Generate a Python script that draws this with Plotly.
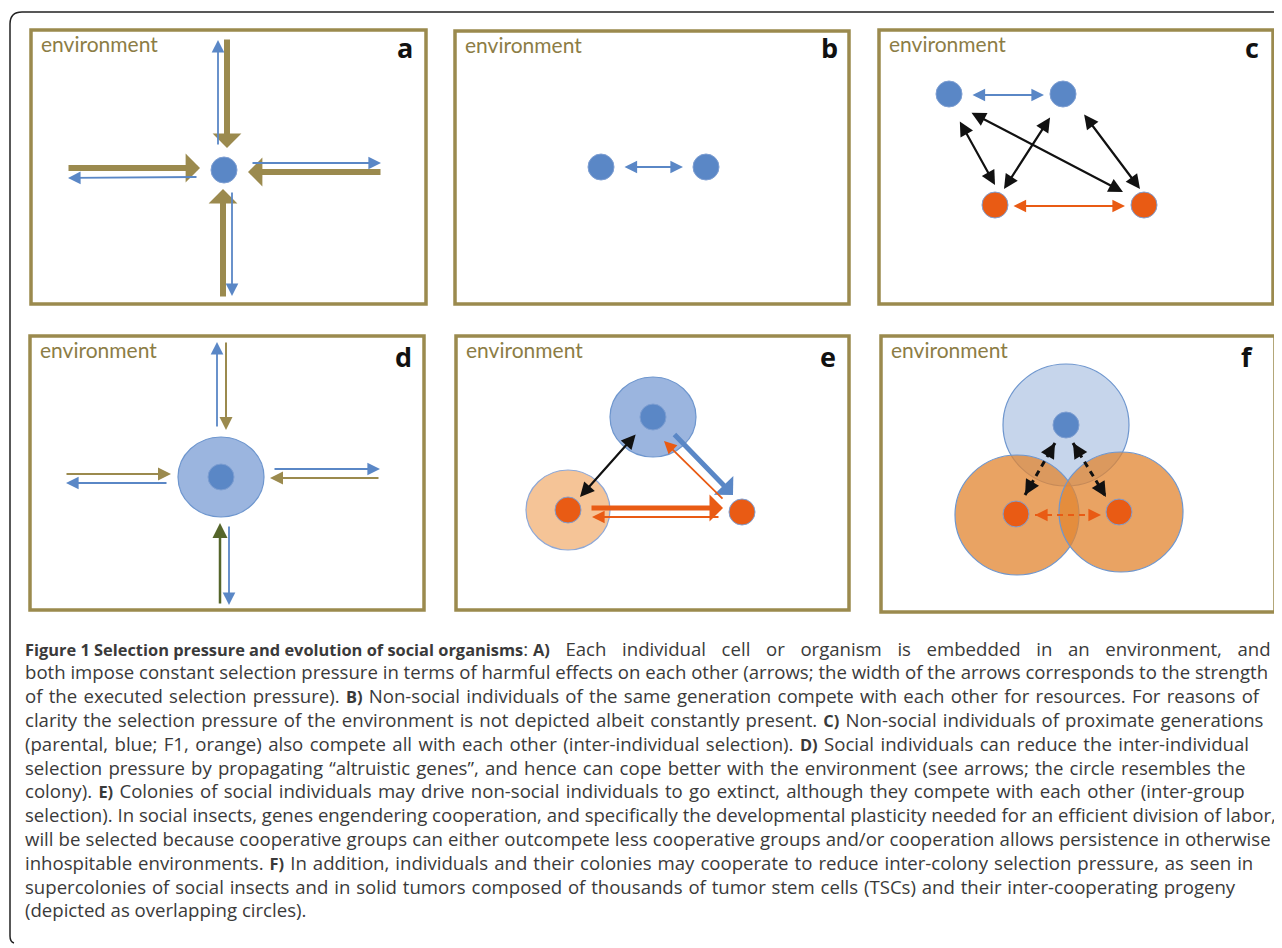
import plotly.graph_objects as go

W, H = 1282, 948
PAGE_MARGIN = 8  # default body margin of the html page

# ---------------- data ----------------
panel_x0 = [31, 455, 879, 30, 456, 881]
panel_y0 = [30, 31, 30, 336, 336, 336]
panel_x1 = [426, 849, 1273, 424, 849, 1275]
panel_y1 = [304, 304, 304, 610, 610, 612]
panel_letters = ["a", "b", "c", "d", "e", "f"]
panel_letter_x = [405, 829, 1252, 403, 828, 1247]
panel_letter_y = [47, 47, 47, 356, 356, 356]
env_label = "environment"

blue_nodes_x = [224, 601, 706, 949, 1063, 221, 653, 1066]
blue_nodes_y = [170, 167, 167, 94, 94, 477, 417, 425]
orange_nodes_x = [995, 1144, 568, 742, 1016, 1119]
orange_nodes_y = [205, 205, 510, 512, 514, 512]

colony_cx = [221, 653, 568, 1066, 1017, 1121]
colony_cy = [477, 417, 510, 425, 515, 512]
colony_rx = [43, 43, 42, 63, 62, 62]
colony_ry = [40, 40, 40, 61, 60, 60]
colony_kind = ["blue", "blue", "lorange", "fblue", "forange", "forange"]

# arrows: kind, tail x, tail y, head x, head y
arrow_kind = [
    "olive_thick", "blue", "olive_thick", "blue", "olive_thick", "blue", "olive_thick", "blue",
    "blue_double",
    "blue_double", "orange_double", "black_double", "black_double", "black_double", "black_double",
    "olive", "blue", "olive", "blue", "blue", "olive", "darkolive", "blue",
    "black_double", "blue_thick", "orange", "orange_thick", "orange",
]
arrow_tx = [227, 218, 67, 198, 382, 251, 223, 232,
            623,
            971, 1012, 959, 1051, 970, 1083,
            226, 217, 65, 168, 273, 380, 220, 229,
            637, 673, 724, 590, 720]
arrow_ty = [38, 146, 168, 177, 172, 163, 298, 191,
            167,
            95, 206, 120, 116, 112, 113,
            341, 428, 474, 483, 469, 478, 605, 525,
            433, 433, 500, 508, 517]
arrow_hx = [227, 218, 200, 68, 248, 381, 223, 232,
            683,
            1044, 1125, 995, 1004, 1123, 1140,
            226, 217, 171, 66, 380, 270, 220, 229,
            580, 733, 664, 723, 592]
arrow_hy = [148, 40, 168, 178, 172, 163, 189, 296,
            167,
            95, 206, 185, 189, 192, 189,
            430, 342, 474, 483, 469, 478, 523, 605,
            497, 495, 441, 508, 517]

# dashed double arrows (panel f)
dash_kind = ["black", "black", "orange"]
dash_x0 = [1025, 1073, 1035]
dash_y0 = [495, 443, 515]
dash_x1 = [1055, 1106, 1101]
dash_y1 = [443, 497, 515]

# caption: each line is a list of (text, is_bold) segments
caption_segments = [
    [("Figure 1 Selection pressure and evolution of social organisms", True), (": ", False), ("A)", True),
     (" Each individual cell or organism is embedded in an environment, and", False)],
    [("both impose constant selection pressure in terms of harmful effects on each other (arrows; the width of the arrows corresponds to the strength", False)],
    [("of the executed selection pressure). ", False), ("B)", True),
     (" Non-social individuals of the same generation compete with each other for resources. For reasons of", False)],
    [("clarity the selection pressure of the environment is not depicted albeit constantly present. ", False), ("C)", True),
     (" Non-social individuals of proximate generations", False)],
    [("(parental, blue; F1, orange) also compete all with each other (inter-individual selection). ", False), ("D)", True),
     (" Social individuals can reduce the inter-individual", False)],
    [("selection pressure by propagating \u201caltruistic genes\u201d, and hence can cope better with the environment (see arrows; the circle resembles the", False)],
    [("colony). ", False), ("E)", True),
     (" Colonies of social individuals may drive non-social individuals to go extinct, although they compete with each other (inter-group", False)],
    [("selection). In social insects, genes engendering cooperation, and specifically the developmental plasticity needed for an efficient division of labor,", False)],
    [("will be selected because cooperative groups can either outcompete less cooperative groups and/or cooperation allows persistence in otherwise", False)],
    [("inhospitable environments. ", False), ("F)", True),
     (" In addition, individuals and their colonies may cooperate to reduce inter-colony selection pressure, as seen in", False)],
    [("supercolonies of social insects and in solid tumors composed of thousands of tumor stem cells (TSCs) and their inter-cooperating progeny", False)],
    [("(depicted as overlapping circles).", False)],
]

# ---------------- styles ----------------
OLIVE = "#9B8A4E"
ENV_TXT = "#8C7D45"
BLUE = "#5A87C6"
ORANGE = "#E95B14"
NODE_LINE = "#7D9ED2"
REG_SIZE = 18.6
BOLD_SIZE = 16.4
# extra word spacing (px) per caption line, to follow the reference typesetting
line_word_spacing = [10.8, 0.0, 1.45, 1.25, 1.6, 1.3, 1.5, 0.0, 0.3, 1.2, 1.0, 0.0]

arrow_style = {
    "olive_thick": dict(color=OLIVE, width=6, size=0.8, double=False, head=1),
    "olive": dict(color=OLIVE, width=2, size=1.3, double=False, head=2),
    "darkolive": dict(color="#55652A", width=2.5, size=1.2, double=False, head=2),
    "blue": dict(color=BLUE, width=1.8, size=1.4, double=False, head=2),
    "blue_double": dict(color=BLUE, width=1.8, size=1.4, double=True, head=2),
    "orange_double": dict(color=ORANGE, width=1.8, size=1.4, double=True, head=2),
    "black_double": dict(color="#111111", width=2.2, size=1.3, double=True, head=2),
    "blue_thick": dict(color=BLUE, width=5, size=0.9, double=False, head=1),
    "orange": dict(color=ORANGE, width=1.8, size=1.4, double=False, head=2),
    "orange_thick": dict(color=ORANGE, width=5, size=0.9, double=False, head=1),
}
colony_style = {
    "blue": dict(fill="#9BB5DF", line="#6E96CE"),
    "lorange": dict(fill="#F5C497", line="#8FA8D6"),
    "fblue": dict(fill="rgba(91,135,197,0.35)", line="#6E96CE"),
    "forange": dict(fill="rgba(226,134,50,0.76)", line="#6E96CE"),
}

fig = go.Figure()
shapes = []
annotations = []

# outer frame (top and left edges, rounded corner)
shapes.append(dict(type="path", path="M 1290,12 L 22,12 Q 10,12 10,24 L 10,936 Q 10,942 14,943",
                   line=dict(color="#222222", width=1.5), xref="x", yref="y"))

for i in range(len(panel_letters)):
    shapes.append(dict(type="rect", x0=panel_x0[i], y0=panel_y0[i], x1=panel_x1[i], y1=panel_y1[i],
                       line=dict(color=OLIVE, width=3.5), xref="x", yref="y", layer="below"))
    annotations.append(dict(x=panel_x0[i] + 8, y=panel_y0[i] + 13, text=env_label, showarrow=False,
                            xanchor="left", yanchor="middle",
                            font=dict(family="Lato", size=21, color=ENV_TXT), xref="x", yref="y"))
    annotations.append(dict(x=panel_letter_x[i], y=panel_letter_y[i], text="<b>%s</b>" % panel_letters[i],
                            showarrow=False, xanchor="center", yanchor="middle",
                            font=dict(family="Open Sans", size=27, color="#111111"), xref="x", yref="y"))

for i in range(len(colony_cx)):
    st = colony_style[colony_kind[i]]
    shapes.append(dict(type="circle", x0=colony_cx[i] - colony_rx[i], x1=colony_cx[i] + colony_rx[i],
                       y0=colony_cy[i] - colony_ry[i], y1=colony_cy[i] + colony_ry[i],
                       fillcolor=st["fill"], line=dict(color=st["line"], width=1.2),
                       xref="x", yref="y", layer="below"))

# dashed lines
for i in range(len(dash_kind)):
    col = "#111111" if dash_kind[i] == "black" else ORANGE
    w = 3 if dash_kind[i] == "black" else 1.8
    fig.add_trace(go.Scatter(x=[dash_x0[i], dash_x1[i]], y=[dash_y0[i], dash_y1[i]], mode="lines",
                             line=dict(color=col, width=w, dash="6px,5px"), hoverinfo="skip",
                             showlegend=False))
    for (hx, hy, tx, ty) in [(dash_x0[i], dash_y0[i], dash_x1[i], dash_y1[i]),
                             (dash_x1[i], dash_y1[i], dash_x0[i], dash_y0[i])]:
        dx, dy = tx - hx, ty - hy
        L = (dx * dx + dy * dy) ** 0.5
        annotations.append(dict(x=hx, y=hy, ax=hx + dx / L * 6, ay=hy + dy / L * 6,
                                xref="x", yref="y", axref="x", ayref="y", text="", showarrow=True,
                                arrowhead=2, arrowsize=1.0 if dash_kind[i] == "black" else 1.4,
                                arrowwidth=w, arrowcolor=col))

# nodes
fig.add_trace(go.Scatter(x=blue_nodes_x, y=blue_nodes_y, mode="markers",
                         marker=dict(size=26, color=BLUE, line=dict(color=NODE_LINE, width=1)),
                         hoverinfo="skip", showlegend=False))
fig.add_trace(go.Scatter(x=orange_nodes_x, y=orange_nodes_y, mode="markers",
                         marker=dict(size=26, color=ORANGE, line=dict(color=NODE_LINE, width=1)),
                         hoverinfo="skip", showlegend=False))

# arrows
for i in range(len(arrow_kind)):
    st = arrow_style[arrow_kind[i]]
    a = dict(x=arrow_hx[i], y=arrow_hy[i], ax=arrow_tx[i], ay=arrow_ty[i],
             xref="x", yref="y", axref="x", ayref="y", text="", showarrow=True,
             arrowhead=st["head"], arrowsize=st["size"], arrowwidth=st["width"], arrowcolor=st["color"])
    if st["double"]:
        a.update(arrowside="end+start", startarrowhead=st["head"], startarrowsize=st["size"])
    annotations.append(a)

# caption
def seg_html(text, bold, ws):
    if bold:
        wsp = ws if len(text) < 5 else 0.0
        return '<span style="font-weight:bold;font-size:%.1fpx;word-spacing:%.2fpx">%s</span>' % (BOLD_SIZE, wsp, text)
    if text == ": ":
        ws = 0.0
    return '<span style="font-size:%.1fpx;word-spacing:%.2fpx">%s</span>' % (REG_SIZE, ws, text)

for k, segs in enumerate(caption_segments):
    line = "".join(seg_html(t, b, line_word_spacing[k]) for t, b in segs)
    annotations.append(dict(x=23, y=648 + k * 23.8, text=line, showarrow=False, xanchor="left",
                            yanchor="middle", font=dict(family="Open Sans", size=REG_SIZE, color="#3A3A3A"),
                            xref="x", yref="y"))

fig.update_layout(
    width=W - PAGE_MARGIN, height=H - PAGE_MARGIN, margin=dict(l=0, r=0, t=0, b=0),
    paper_bgcolor="white", plot_bgcolor="white",
    xaxis=dict(range=[PAGE_MARGIN, W], visible=False, fixedrange=True),
    yaxis=dict(range=[H, PAGE_MARGIN], visible=False, fixedrange=True),
    shapes=shapes, annotations=annotations, showlegend=False,
)
fig.write_html("out.html")
